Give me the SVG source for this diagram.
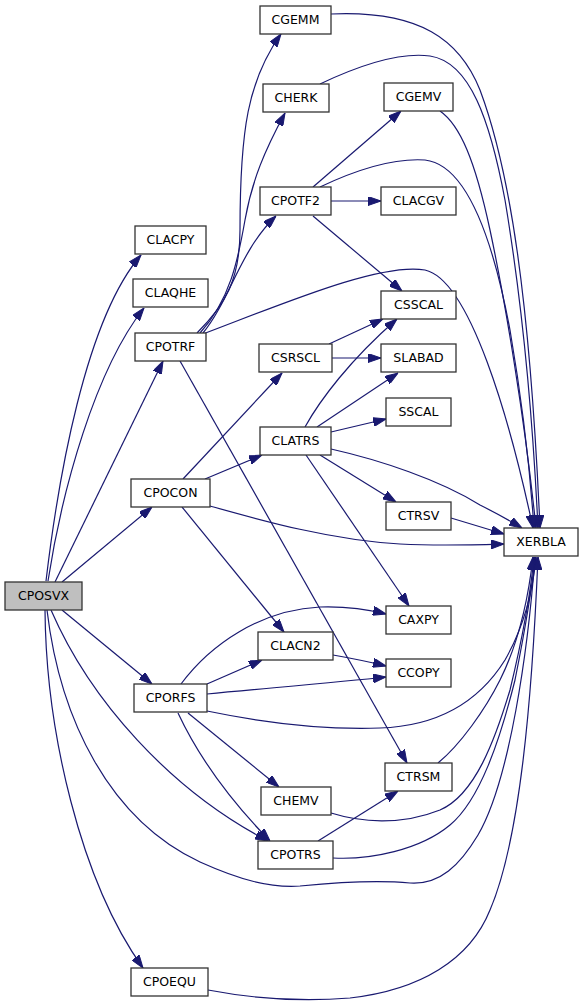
<svg xmlns="http://www.w3.org/2000/svg" width="584" height="1005" viewBox="0 0 584 1005">
<style>
.n rect{fill:#ffffff;stroke:#333333;stroke-width:1.3}
.n text{font-family:"DejaVu Sans","Liberation Sans",sans-serif;font-size:12.5px;fill:#000;text-anchor:middle}
#CPOSVX rect{fill:#bfbfbf}
.e path{fill:none;stroke:#191970;stroke-width:1.2;marker-end:url(#a)}
</style>
<defs>
<marker id="a" markerUnits="userSpaceOnUse" viewBox="0 0 13 9" refX="13" refY="4.5" markerWidth="13" markerHeight="9" orient="auto">
<path d="M0,0 L13,4.5 L0,9 Z" fill="#191970" stroke="#191970" stroke-width="1"/>
</marker>
</defs>
<rect width="584" height="1005" fill="#ffffff"/>
<g id="edges" class="e">
<path d="M46,581 C58,480 85,320 141,255"/>
<path d="M48,581 C62,490 95,370 144,308"/>
<path d="M55,582 L163,361"/>
<path d="M62,582 L152,507"/>
<path d="M62,610 L152,684"/>
<path d="M51,610 C90,700 170,790 268,841"/>
<path d="M47,610 C60,720 110,820 200,862 C240,880 270,888 300,886 C340,882 380,880 410,883 C440,885 460,865 478,835 C510,780 528,650 535,557"/>
<path d="M45,610 C46,730 80,880 143,968"/>
<path d="M197,333 C225,305 240,280 240,230 C240,130 248,80 281,34"/>
<path d="M200,333 C230,300 238,260 245,220 C252,180 265,150 285,113"/>
<path d="M203,333 C230,300 240,250 276,216"/>
<path d="M203,334 C280,305 380,262 425,270 C470,280 510,420 533,528"/>
<path d="M180,361 L407,763"/>
<path d="M331,14 C420,10 460,40 480,90 C510,170 530,300 540,528"/>
<path d="M320,84 C360,65 400,52 430,56 C470,62 490,120 505,200 C520,290 532,400 538,528"/>
<path d="M440,111 C460,125 475,160 490,230 C505,300 525,420 536,528"/>
<path d="M320,187 C360,168 395,158 425,160 C470,165 495,250 510,330 C522,400 530,470 534,528"/>
<path d="M313,187 L401,111"/>
<path d="M331,201 L381,201"/>
<path d="M313,216 L402,291"/>
<path d="M183,479 L282,373"/>
<path d="M205,479 L262,455"/>
<path d="M182,507 L284,632"/>
<path d="M210,506 C260,520 330,540 400,544 C440,546 470,545 504,544"/>
<path d="M329,344 L383,319"/>
<path d="M332,358 L381,358"/>
<path d="M305,427 C320,400 350,360 397,319"/>
<path d="M317,427 L398,373"/>
<path d="M331,432 L386,419"/>
<path d="M331,449 C380,460 440,480 480,505 C500,515 512,522 522,528"/>
<path d="M320,455 L396,502"/>
<path d="M306,455 L409,606"/>
<path d="M451,518 L504,534"/>
<path d="M207,684 L262,660"/>
<path d="M181,684 C210,645 260,610 320,607 C350,606 370,610 386,614"/>
<path d="M207,694 C270,688 340,682 386,677"/>
<path d="M333,655 C350,658 370,662 386,666"/>
<path d="M207,711 C260,722 320,730 380,728 C440,726 480,700 505,660 C525,625 533,590 536,557"/>
<path d="M188,713 L279,787"/>
<path d="M178,713 C200,760 230,800 270,841"/>
<path d="M331,813 C360,822 400,826 440,810 C475,795 495,740 510,690 C522,640 530,600 534,557"/>
<path d="M333,858 C370,860 420,850 450,825 C480,800 500,740 515,680 C525,630 532,590 535,557"/>
<path d="M438,763 C460,745 485,710 500,680 C515,650 527,610 533,557"/>
<path d="M318,841 L398,791"/>
<path d="M208,990 C250,998 300,1002 350,998 C420,990 470,960 490,910 C520,840 532,700 538,557"/>
</g>
<g id="CPOSVX" class="n"><rect x="5" y="582" width="77" height="28"/><text x="43.5" y="600">CPOSVX</text></g>
<g id="CLACPY" class="n"><rect x="135" y="226" width="71" height="28"/><text x="170.5" y="244">CLACPY</text></g>
<g id="CLAQHE" class="n"><rect x="133" y="279" width="75" height="28"/><text x="170.5" y="297">CLAQHE</text></g>
<g id="CPOTRF" class="n"><rect x="135" y="333" width="71" height="28"/><text x="170.5" y="351">CPOTRF</text></g>
<g id="CPOCON" class="n"><rect x="131" y="479" width="79" height="28"/><text x="170.5" y="497">CPOCON</text></g>
<g id="CPORFS" class="n"><rect x="134" y="684" width="73" height="28"/><text x="170.5" y="702">CPORFS</text></g>
<g id="CPOEQU" class="n"><rect x="131" y="968" width="77" height="28"/><text x="169.5" y="986">CPOEQU</text></g>
<g id="CGEMM" class="n"><rect x="260" y="6" width="71" height="28"/><text x="295.5" y="24">CGEMM</text></g>
<g id="CHERK" class="n"><rect x="263" y="84" width="66" height="28"/><text x="296" y="102">CHERK</text></g>
<g id="CGEMV" class="n"><rect x="384" y="83" width="69" height="28"/><text x="418.5" y="101">CGEMV</text></g>
<g id="CPOTF2" class="n"><rect x="260" y="187" width="71" height="28"/><text x="295.5" y="205">CPOTF2</text></g>
<g id="CLACGV" class="n"><rect x="381" y="187" width="75" height="28"/><text x="418.5" y="205">CLACGV</text></g>
<g id="CSSCAL" class="n"><rect x="381" y="291" width="75" height="28"/><text x="418.5" y="309">CSSCAL</text></g>
<g id="CSRSCL" class="n"><rect x="259" y="344" width="73" height="28"/><text x="295.5" y="362">CSRSCL</text></g>
<g id="SLABAD" class="n"><rect x="381" y="344" width="75" height="28"/><text x="418.5" y="362">SLABAD</text></g>
<g id="SSCAL" class="n"><rect x="386" y="398" width="65" height="28"/><text x="418.5" y="416">SSCAL</text></g>
<g id="CLATRS" class="n"><rect x="260" y="427" width="71" height="28"/><text x="295.5" y="445">CLATRS</text></g>
<g id="CTRSV" class="n"><rect x="386" y="502" width="65" height="28"/><text x="418.5" y="520">CTRSV</text></g>
<g id="XERBLA" class="n"><rect x="504" y="528" width="74" height="28"/><text x="541" y="546">XERBLA</text></g>
<g id="CAXPY" class="n"><rect x="386" y="606" width="65" height="28"/><text x="418.5" y="624">CAXPY</text></g>
<g id="CLACN2" class="n"><rect x="258" y="632" width="75" height="28"/><text x="295.5" y="650">CLACN2</text></g>
<g id="CCOPY" class="n"><rect x="386" y="659" width="65" height="28"/><text x="418.5" y="677">CCOPY</text></g>
<g id="CTRSM" class="n"><rect x="385" y="763" width="67" height="28"/><text x="418.5" y="781">CTRSM</text></g>
<g id="CHEMV" class="n"><rect x="261" y="787" width="70" height="28"/><text x="296" y="805">CHEMV</text></g>
<g id="CPOTRS" class="n"><rect x="258" y="841" width="75" height="28"/><text x="295.5" y="859">CPOTRS</text></g>
</svg>
